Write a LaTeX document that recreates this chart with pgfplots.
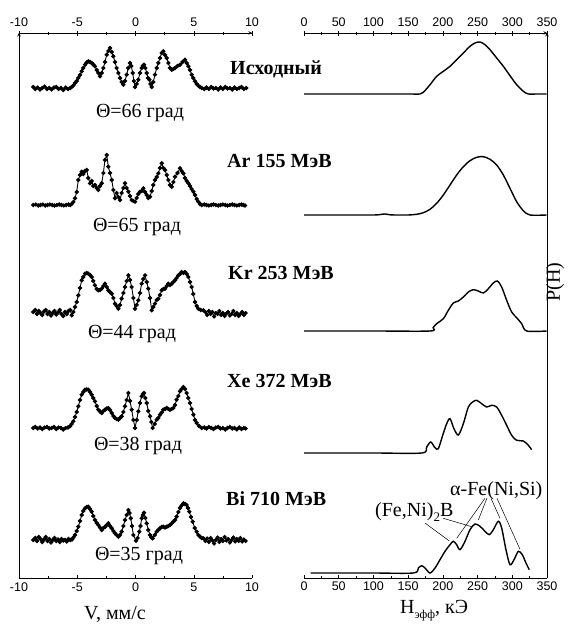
\documentclass[border=0pt]{standalone}
\usepackage{fontspec}
\setmainfont{Liberation Serif}
\setsansfont{Liberation Sans}
\usepackage{pgfplots}
\pgfplotsset{compat=1.18}

\pgfplotsset{
  panel/.style={
    scale only axis, anchor=south west, height=545pt,
    ymin=0, ymax=545, ytick=\empty,
    axis line style={-, line width=0.6pt},
    tick align=inside, major tick length=3pt, minor tick length=2pt,
    minor x tick num=1,
    every tick/.style={black, line width=0.5pt},
    /pgf/number format/assume math mode=true,
    xticklabel style={font=\fontsize{12.5}{13}\sffamily, inner sep=1.5pt},
    clip=false,
  },
  spec/.style={black, line width=0.9pt, mark=*, mark size=1.7pt},
  dist/.style={black, line width=1.4pt, smooth, tension=0.5},
}
\tikzset{big/.style={font=\fontsize{20}{24}\selectfont, inner sep=0pt}}

\begin{document}
\begin{tikzpicture}
\path[use as bounding box] (0,0) rectangle (571pt,630pt);

% ---- left panel: spectra
\begin{axis}[panel, at={(19pt,52pt)}, width=233pt,
  xmin=-10, xmax=10, xtick={-10,-5,...,10},
  axis x line=box, axis y line=left,
  xticklabel style={yshift=-3pt}]
% Исходный
\addplot[spec] coordinates {
(-8.77,491)(-8.6,489)(-8.4,490.5)(-8.2,488.5)(-8.0,490)(-7.8,491.5)(-7.6,489)(-7.4,490)(-7.2,488.5)(-7.0,490.5)
(-6.8,491)(-6.6,489)(-6.4,490)(-6.2,488)(-6.0,490.5)(-5.8,489)(-5.6,490)(-5.48,491)
(-5.33,492.5)(-5.19,495)(-5.05,497)(-4.91,500)(-4.76,503)(-4.62,506.7)(-4.48,510)(-4.33,513.3)(-4.19,515.5)(-4.05,516.7)
(-3.9,516)(-3.76,515)(-3.62,513.5)(-3.48,511.7)(-3.33,508)(-3.19,505)(-3.05,501.7)(-2.9,505)(-2.76,510)(-2.62,516)
(-2.47,523.3)(-2.33,527)(-2.19,530)(-2.04,526)(-1.9,521.7)(-1.76,516)(-1.62,510)(-1.47,505)(-1.33,500)(-1.19,496)
(-1.04,493.3)(-0.9,497)(-0.76,503.3)(-0.62,510)(-0.47,515)(-0.36,512)(-0.24,505)(-0.14,497)(-0.04,491)(0.1,494)
(0.24,498.3)(0.38,505)(0.53,510)(0.63,512)(0.73,513.3)(0.85,510)(0.96,505)(1.08,500)(1.19,498.3)(1.29,494)
(1.39,491)(1.53,496)(1.67,503.3)(1.82,510)(1.96,515)(2.1,520)(2.25,525)(2.39,526.7)(2.53,523)(2.68,520)
(2.82,515)(2.96,510)(3.11,508.3)(3.25,509)(3.39,510)(3.6,512)(3.82,513.3)(4.04,516)(4.25,518.3)(4.4,515)
(4.54,511.7)(4.68,508)(4.82,503.3)(4.96,500)(5.11,496.7)(5.25,494)(5.39,492.3)(5.54,491)(5.68,490)
(5.9,489)(6.1,490.5)(6.3,489)(6.5,491)(6.7,489.5)(6.9,490)(7.1,488.5)(7.3,490.5)(7.5,489)(7.7,491)
(7.9,489.5)(8.1,490)(8.3,488.5)(8.5,490.5)(8.7,489)(8.9,490)(9.1,491)(9.3,489)(9.5,490)};
% Ar
\addplot[spec] coordinates {
(-8.77,373)(-8.55,373.5)(-8.35,372.5)(-8.15,373)(-7.95,373.5)(-7.75,372.5)(-7.55,373)(-7.35,373.5)(-7.15,373)(-6.95,372.5)
(-6.75,373)(-6.55,373.5)(-6.35,373)(-6.15,372.5)(-5.95,373)(-5.75,373.5)(-5.6,373)(-5.48,374)(-5.33,376)(-5.19,379.7)
(-5.05,386)(-4.91,398)(-4.76,403)(-4.62,406.3)(-4.48,404)(-4.33,407)(-4.19,408)(-4.05,400)(-3.9,394.7)(-3.76,397)
(-3.62,392)(-3.48,393)(-3.33,390)(-3.19,388)(-3.05,392)(-2.9,394.7)(-2.76,405)(-2.62,418)(-2.47,423)(-2.33,411.3)
(-2.19,405)(-2.04,398)(-1.9,388)(-1.76,379.7)(-1.62,385)(-1.47,381)(-1.33,378)(-1.19,385)(-1.04,390)(-0.9,394.7)
(-0.76,390)(-0.61,386.3)(-0.47,382)(-0.33,378)(-0.18,377)(-0.04,376.3)(0.1,380)(0.24,384)(0.39,386.3)(0.53,387)
(0.67,389.7)(0.82,386)(0.96,383)(1.1,380)(1.25,381.3)(1.39,387)(1.53,393)(1.67,398)(1.82,401)(1.96,404.7)
(2.1,410)(2.25,414.7)(2.39,410)(2.53,408)(2.68,403)(2.82,398)(2.96,393)(3.11,391.3)(3.25,396)(3.39,401.3)
(3.6,405)(3.82,409.7)(3.96,407)(4.11,404.7)(4.25,400)(4.4,397)(4.54,394.7)(4.68,392)(4.82,389)(4.97,386.3)
(5.11,383)(5.25,379)(5.39,376.3)(5.54,374)(5.68,373)(5.9,373.5)(6.1,373)(6.3,372.5)(6.5,373)(6.7,373.5)
(6.9,373)(7.1,372.5)(7.3,373)(7.5,373.5)(7.7,373)(7.9,372.5)(8.1,373)(8.3,373.5)(8.5,373)(8.7,372.5)
(8.9,373)(9.1,373.5)(9.25,373)(9.4,372.5)};
% Kr
\addplot[spec] coordinates {
(-8.77,266)(-8.6,268)(-8.45,264)(-8.3,267)(-8.15,265)(-8.0,263)(-7.85,266.5)(-7.7,268)(-7.55,264)(-7.4,266)
(-7.25,262.5)(-7.1,265)(-6.95,267)(-6.8,263.5)(-6.65,265.5)(-6.5,268)(-6.35,264)(-6.2,262)(-6.05,266)(-5.9,264)
(-5.75,267)(-5.6,268)(-5.48,262.7)(-5.33,266)(-5.19,271)(-5.05,276)(-4.91,282.7)(-4.76,290)(-4.62,297.7)(-4.48,301)
(-4.33,304.3)(-4.19,305)(-4.05,304.3)(-3.9,303)(-3.76,301)(-3.62,297)(-3.48,292.7)(-3.33,289)(-3.19,287.7)(-3.05,288)
(-2.9,289.3)(-2.76,292)(-2.62,294.3)(-2.47,291)(-2.33,287.7)(-2.19,286)(-2.04,284.3)(-1.9,280)(-1.76,274.3)(-1.62,272)
(-1.47,269.3)(-1.33,273)(-1.19,279.3)(-1.04,285)(-0.9,291)(-0.76,297)(-0.61,302.7)(-0.47,298)(-0.33,291)(-0.18,280)
(-0.04,269.3)(0.1,273)(0.24,277.7)(0.38,285)(0.53,294.3)(0.67,299)(0.82,302.7)(0.96,296)(1.1,289.3)(1.25,280)
(1.39,267.7)(1.53,271)(1.67,274.3)(1.82,278)(1.96,279.3)(2.1,283)(2.25,287.7)(2.39,289)(2.53,289.3)(2.68,292)
(2.82,294.3)(2.96,293)(3.11,294.3)(3.25,296)(3.39,297.7)(3.53,300)(3.68,302.7)(3.82,304)(3.96,306)(4.11,305)
(4.25,306)(4.4,304)(4.54,301)(4.68,296)(4.82,291)(4.96,284)(5.11,276)(5.25,272)(5.39,269.3)(5.6,268)
(5.82,267.7)(6.0,266)(6.15,263)(6.3,267)(6.45,264)(6.6,266)(6.75,261.5)(6.9,265)(7.05,264)(7.2,267)
(7.35,263)(7.5,265)(7.65,262)(7.8,264.5)(7.95,266)(8.1,262.5)(8.25,264)(8.4,267)(8.55,263)(8.7,265)
(8.85,262)(9.0,264)(9.15,266)(9.3,263)(9.45,265)};
% Xe
\addplot[spec] coordinates {
(-8.77,150)(-8.6,151)(-8.4,149.5)(-8.2,150.5)(-8.0,149)(-7.8,150.5)(-7.6,151)(-7.4,149.5)(-7.2,150)(-7.0,151)
(-6.8,149)(-6.6,150.5)(-6.4,150)(-6.2,148.5)(-6.0,150)(-5.8,150.5)(-5.62,151.7)(-5.48,154)(-5.34,156.7)(-5.19,161)
(-5.05,166)(-4.91,171.7)(-4.76,178)(-4.62,183.3)(-4.48,186)(-4.33,188.3)(-4.19,188.5)(-4.05,188.3)(-3.9,186)(-3.76,183.3)
(-3.62,180)(-3.48,176.7)(-3.33,172)(-3.19,168.3)(-3.05,166.5)(-2.9,165)(-2.76,167)(-2.62,168.3)(-2.47,169.5)(-2.33,170)
(-2.19,168)(-2.04,165)(-1.9,162)(-1.76,160)(-1.62,159)(-1.47,158.3)(-1.33,160)(-1.19,161.7)(-1.04,166)(-0.9,171.7)
(-0.76,178)(-0.61,185)(-0.47,177)(-0.33,168.3)(-0.18,158)(-0.04,150)(0.1,158)(0.24,166.7)(0.38,175)(0.53,181.7)
(0.63,184)(0.73,185)(0.85,180)(0.96,175)(1.1,167)(1.25,161.7)(1.36,156)(1.47,150)(1.65,154)(1.82,158.3)
(1.96,160)(2.1,163.3)(2.25,165.5)(2.39,168.3)(2.53,169)(2.68,170)(2.82,169)(2.96,168.3)(3.1,169)(3.25,170)
(3.39,173)(3.53,178.3)(3.68,182)(3.82,186.7)(3.96,189)(4.11,191)(4.25,189)(4.39,185)(4.53,180)(4.68,175)
(4.82,169)(4.97,163.3)(5.11,158)(5.25,155)(5.45,152)(5.68,150)(5.9,150.5)(6.1,149.5)(6.3,151)(6.5,150)
(6.7,149)(6.9,150.5)(7.1,151)(7.3,149.5)(7.5,150)(7.7,148.5)(7.9,150)(8.1,151)(8.3,149.5)(8.5,150)
(8.7,148.5)(8.9,150.5)(9.1,149)(9.3,150)(9.45,149.5)};
% Bi
\addplot[spec] coordinates {
(-8.77,38)(-8.6,40)(-8.45,37)(-8.3,41)(-8.15,39)(-8.0,36)(-7.85,38.5)(-7.7,41)(-7.55,37)(-7.4,39)
(-7.25,35.5)(-7.1,38)(-6.95,40)(-6.8,37)(-6.65,38.5)(-6.5,36)(-6.35,39)(-6.2,37.5)(-6.05,38)(-5.9,36.5)
(-5.75,39)(-5.6,38)(-5.45,38.5)(-5.33,40.5)(-5.19,43)(-5.05,47)(-4.91,51.3)(-4.76,57)(-4.62,63)(-4.48,67)
(-4.33,69.7)(-4.19,71)(-4.05,71.3)(-3.9,69)(-3.76,66.3)(-3.62,62)(-3.48,58)(-3.33,55)(-3.19,53)(-3.05,50.5)
(-2.9,48)(-2.76,50)(-2.62,51)(-2.47,53)(-2.33,54.7)(-2.19,52)(-2.04,49.7)(-1.9,47)(-1.76,44.7)(-1.62,43)
(-1.47,41.3)(-1.33,43)(-1.19,46.3)(-1.04,52)(-0.9,58)(-0.76,63)(-0.61,68)(-0.51,65)(-0.41,59.7)(-0.3,52)
(-0.18,43)(0.04,37.3)(0.18,40)(0.33,46.3)(0.43,52)(0.53,59.7)(0.63,63)(0.73,65.3)(0.85,60)(0.96,54.7)
(1.1,48)(1.25,43)(1.36,40.5)(1.47,39.7)(1.65,43)(1.82,46.3)(1.96,48)(2.1,49.7)(2.25,51)(2.39,51.3)
(2.53,50.5)(2.68,51.3)(2.82,52)(2.96,53)(3.1,54.5)(3.25,56.3)(3.39,58)(3.53,61.3)(3.68,66)(3.82,70)
(3.96,72.5)(4.11,74.7)(4.25,74)(4.39,73)(4.5,70)(4.62,66.3)(4.76,61)(4.91,56.3)(5.08,50)(5.25,46.3)
(5.4,43)(5.54,41.3)(5.68,40)(5.82,39.7)(6.0,37)(6.15,39.5)(6.3,36)(6.45,40)(6.6,37.5)(6.75,34.5)
(6.9,38)(7.05,40.5)(7.2,36)(7.35,39)(7.5,37)(7.65,41)(7.8,37.5)(7.95,39)(8.1,35.5)(8.25,38)
(8.4,40.5)(8.55,36.5)(8.7,39)(8.85,37)(9.0,40)(9.15,36.5)(9.3,38.5)(9.45,37)};
\end{axis}
\begin{axis}[panel, at={(19pt,52pt)}, width=233pt,
  xmin=-10, xmax=10, xtick={-10,-5,...,10},
  axis x line=top, axis y line=none,
  xticklabel style={yshift=3pt}]
\end{axis}

% ---- right panel: P(H)
\begin{axis}[panel, at={(304pt,52pt)}, width=243pt,
  xmin=0, xmax=350, xtick={0,50,...,350},
  axis x line=box, axis y line=right,
  xticklabel style={yshift=-2pt}]
\addplot[dist] coordinates {
(0,484)(50,484)(100,484)(150,484)(167,484)(172,485.7)(181.5,493.3)(191.1,501.7)(200.7,506.7)(210.3,511.7)
(219.9,518.3)(229.5,525)(239.1,531.7)(246.3,535)(253.5,536)(260.7,533.3)(267.9,528.3)(277.5,520)(287.1,511.7)
(296.7,502.3)(306.3,493.3)(315.9,486.7)(323.1,484)(335,484)(349.5,484)};
\addplot[dist] coordinates {
(0,363)(50,363)(100,363)(110,363.5)(116.7,364)(124,363.2)(133.5,363)(150,363)(162.3,363.7)(171.9,365.3)
(181.5,368.7)(191.1,374.7)(200.7,383)(210.3,393)(219.9,403)(229.5,411.3)(239.1,417.3)(248.7,420.7)(258.3,421.3)
(267.9,418.7)(277.5,413)(287.1,403)(296.7,389.7)(306.3,376.3)(315.9,367.3)(325.5,363)(349.5,363)};
\addplot[dist] coordinates {
(0,247)(100,247)(181.5,247)(186,250.5)(191.1,254.3)(200.7,259.3)(207.9,267.7)(215.1,275)(222.3,277)(229.5,281)(236.7,286)
(243.9,288.3)(251.1,287)(258.3,285)(265.5,289.3)(272.7,295)(278.5,297)(284.7,291)(291.9,277.7)(299.1,266)
(306.3,260.3)(313.5,254.3)(320.7,247)(349.5,247)};
\addplot[dist] coordinates {
(0,125)(100,125)(169.5,125)(176.7,131)(182.5,136)(188.7,130.3)(193.4,129.3)(199.8,142.7)(205.5,154.3)(210.3,159.3)
(216,149.3)(222.3,143)(229.5,154.3)(236.7,171)(242.9,176)(248.7,177.7)(255.9,174.3)(263.1,171)(270.3,172.7)
(277.5,171)(284.7,162.7)(291.9,152.7)(299.1,142.7)(306.3,137.7)(315.9,137)(323.1,132.7)(327.9,128.3)};
\addplot[dist] coordinates {
(9.6,5)(50,5)(100,5)(157.5,5)(164.7,10)(169.5,12.3)(174.3,10)(181.5,5)(188.7,10)(195.9,18.3)
(203.1,26.7)(210.3,33.3)(215.1,36.7)(219.9,33.3)(224.7,28.3)(231.9,36.7)(239.1,48.3)(246.3,54)(253.5,51.7)
(260.7,46.7)(266.9,43.3)(272.7,48.3)(279.9,56.7)(284.7,50)(290.9,28.3)(296.7,13.3)(302.5,18.3)(308.7,26.7)
(314.4,23.3)(319.7,15)(324.5,8.3)};
\end{axis}
\begin{axis}[panel, at={(304pt,52pt)}, width=243pt,
  xmin=0, xmax=350, xtick={0,50,...,350},
  axis x line=top, axis y line=none,
  xticklabel style={yshift=3pt}]
\end{axis}

% ---- texts
\begin{scope}[every node/.style={big, anchor=base west, font=\fontsize{20}{24}\selectfont\bfseries}]
\node at (230pt,555pt) {Исходный};
\node at (227pt,462pt) {Ar 155 МэВ};
\node at (228pt,350pt) {Kr 253 МэВ};
\node at (227pt,242pt) {Xe 372 МэВ};
\node at (226pt,124pt) {Bi 710 МэВ};
\end{scope}
\begin{scope}[every node/.style={big, anchor=base}]
\node at (140pt,512pt) {Θ=66 град};
\node at (137pt,398pt) {Θ=65 град};
\node at (132pt,291.7pt) {Θ=44 град};
\node at (138pt,179.3pt) {Θ=38 град};
\node at (139pt,69.3pt) {Θ=35 град};
\node at (115pt,10pt) {V, мм/с};
\node[anchor=base west] at (400pt,16.7pt) {H\raisebox{-5pt}{\fontsize{12}{12}\selectfont эфф}, кЭ};
\node[anchor=center, rotate=90] at (555pt,348pt) {P(H)};
\node[anchor=base west] at (450pt,134pt) {α-Fe(Ni,Si)};
\node[anchor=base west] at (375pt,113.3pt) {(Fe,Ni)\raisebox{-5pt}{\fontsize{13}{13}\selectfont 2}B};
\end{scope}
\draw[line width=0.5pt] (425pt,107pt) -- (449.3pt,89pt);
\draw[line width=0.5pt] (443.3pt,111.7pt) -- (471.7pt,103.3pt);
\draw[line width=0.5pt] (485pt,131.7pt) -- (456.7pt,91.7pt);
\draw[line width=0.5pt] (487pt,132pt) -- (478.3pt,110pt);
\draw[line width=0.5pt] (491pt,131.7pt) -- (500pt,111.7pt);
\draw[line width=0.5pt] (497pt,131.7pt) -- (520pt,80.7pt);
\end{tikzpicture}
\end{document}
